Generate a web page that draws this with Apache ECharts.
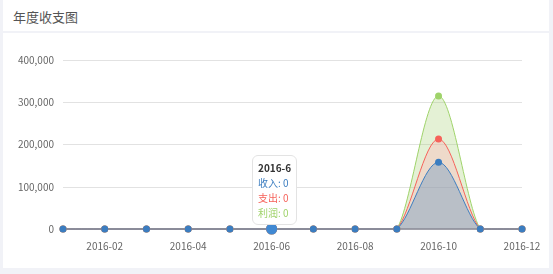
<!DOCTYPE html>
<html>
<head>
<meta charset="utf-8">
<script src="https://cdn.jsdelivr.net/npm/echarts@6/dist/echarts.min.js"></script>
<style>
  html, body { margin: 0; padding: 0; background: #f1f2f7; width: 553px; height: 274px; overflow: hidden; }
  .card { position: absolute; left: 3px; top: 0; width: 546px; height: 268px; background: #fff; }
  .card-head { height: 31px; line-height: 34px; padding-left: 10px; font-size: 13px; color: #555;
    font-family: "Microsoft YaHei", "Noto Sans CJK SC", sans-serif; border-bottom: 2px solid #f1f2f7; }
  #chart { width: 546px; height: 235px; }
</style>
</head>
<body>
<div class="card">
  <div class="card-head">年度收支图</div>
  <div id="chart"></div>
</div>
<script>
  const months = ['2016-01', '2016-02', '2016-03', '2016-04', '2016-05', '2016-06',
    '2016-07', '2016-08', '2016-09', '2016-10', '2016-11', '2016-12'];
  const income = [0, 0, 0, 0, 0, 0, 0, 0, 0, 158000, 0, 0];
  const expense = [0, 0, 0, 0, 0, 0, 0, 0, 0, 213000, 0, 0];
  const profit = [0, 0, 0, 0, 0, 0, 0, 0, 0, 315000, 0, 0];

  const blue = '#3b7dc0';
  const red = '#f6625a';
  const green = '#9fd36a';
  const font = '"Microsoft YaHei", "Noto Sans CJK SC", sans-serif';

  const chart = echarts.init(document.getElementById('chart'));

  // catmull-rom style curve through the points, control points kept inside the points' box
  function smoothPath(pts) {
    const xs = pts.map(p => p[0]), ys = pts.map(p => p[1]);
    const min = [Math.min(...xs), Math.min(...ys)], max = [Math.max(...xs), Math.max(...ys)];
    const clamp = p => [Math.min(Math.max(p[0], min[0]), max[0]), Math.min(Math.max(p[1], min[1]), max[1])];
    const at = i => pts[Math.max(0, Math.min(pts.length - 1, i))];
    let d = 'M' + pts[0][0] + ' ' + pts[0][1];
    for (let i = 0; i < pts.length - 1; i++) {
      const p0 = at(i - 1), p1 = at(i), p2 = at(i + 1), p3 = at(i + 2);
      const a = clamp([p1[0] + (p2[0] - p0[0]) / 6, p1[1] + (p2[1] - p0[1]) / 6]);
      const b = clamp([p2[0] - (p3[0] - p1[0]) / 6, p2[1] - (p3[1] - p1[1]) / 6]);
      d += ' C' + a[0] + ' ' + a[1] + ' ' + b[0] + ' ' + b[1] + ' ' + p2[0] + ' ' + p2[1];
    }
    return d;
  }

  function curve(name, data, color, fill) {
    return {
      name: name,
      type: 'custom',
      silent: true,
      z: 2,
      tooltip: { show: false },
      data: [[0, 0]],
      renderItem: function (params, api) {
        const pts = data.map((v, i) => api.coord([i, v]));
        const d = smoothPath(pts);
        return {
          type: 'group',
          children: [
            { type: 'path', shape: { pathData: d + ' Z' }, style: { fill: fill, stroke: null } },
            { type: 'path', shape: { pathData: d }, style: { fill: null, stroke: color, lineWidth: 1 } }
          ]
        };
      }
    };
  }

  function dots(name, data, color) {
    return {
      name: name,
      type: 'line',
      data: data,
      symbol: 'circle',
      symbolSize: 7,
      z: 4,
      itemStyle: { color: color },
      lineStyle: { opacity: 0 },
      emphasis: { scale: 1.6, focus: 'none' }
    };
  }

  chart.setOption({
    animation: false,
    textStyle: { fontFamily: font },
    grid: { left: 60, right: 27, top: 27, bottom: 39 },
    tooltip: {
      trigger: 'axis',
      axisPointer: { type: 'none' },
      backgroundColor: '#fff',
      borderColor: '#e3e3e3',
      borderWidth: 1,
      padding: [4, 5],
      extraCssText: 'border-radius:6px;box-shadow:none;',
      position: function () { return [249, 122]; },
      formatter: function (params) {
        const i = params[0].dataIndex;
        const label = '2016-' + (i + 1);
        return '<div style="font-size:10px;line-height:15px;font-family:' + font.replace(/"/g, "'") + '">' +
          '<div style="font-weight:bold;color:#333">' + label + '</div>' +
          '<div style="color:' + blue + '">收入: ' + income[i] + '</div>' +
          '<div style="color:' + red + '">支出: ' + expense[i] + '</div>' +
          '<div style="color:' + green + '">利润: ' + profit[i] + '</div></div>';
      }
    },
    xAxis: {
      type: 'category',
      data: months,
      boundaryGap: false,
      z: 3,
      axisLine: { lineStyle: { color: '#8a8a96', width: 1.5 } },
      axisTick: { show: false },
      axisLabel: {
        color: '#666',
        fontSize: 10,
        margin: 12,
        interval: function (i) { return i % 2 === 1; }
      }
    },
    yAxis: {
      type: 'value',
      min: 0,
      max: 400000,
      interval: 100000,
      axisLine: { show: false },
      axisTick: { show: false },
      axisLabel: {
        color: '#666',
        fontSize: 10,
        margin: 9,
        formatter: function (v) { return v.toLocaleString('en-US'); }
      },
      splitLine: { lineStyle: { color: '#e2e2e2', width: 1 } }
    },
    series: [
      curve('利润', profit, green, 'rgba(156,204,101,0.27)'),
      curve('支出', expense, red, 'rgba(253,183,185,0.4)'),
      curve('收入', income, blue, 'rgba(59,125,192,0.3)'),
      dots('利润', profit, green),
      dots('支出', expense, red),
      dots('收入', income, blue)
    ]
  });

  chart.dispatchAction({ type: 'showTip', seriesIndex: 5, dataIndex: 5 });
</script>
</body>
</html>
